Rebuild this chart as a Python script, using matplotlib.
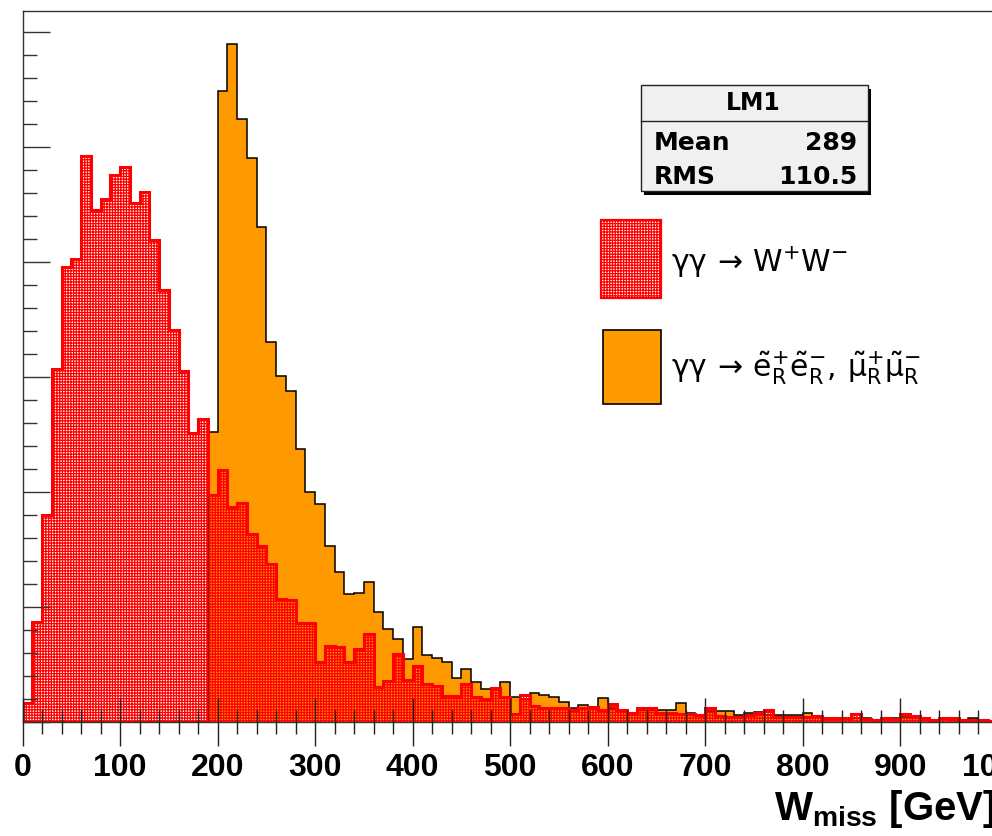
import numpy as np
import matplotlib
matplotlib.use('Agg')
import matplotlib.pyplot as plt
from matplotlib.patches import Rectangle
from matplotlib.lines import Line2D
from matplotlib.ticker import MultipleLocator

# ---------------- data ----------------
bin_edges = np.arange(0, 1001, 10)

# gamma gamma -> W+W-  (red, hatched)
ww_counts = [
    16.5, 87, 180, 307, 395, 402, 492, 445, 454.5, 475,
    482.6, 451, 461, 419, 375, 340.6, 305, 251, 263, 197,
    219, 186.4, 190.4, 163, 153, 137, 106.4, 105.6, 86, 86,
    51.6, 66, 65, 52, 63, 76, 30.4, 35.4, 59, 36.5,
    48.7, 32.8, 31.3, 22.3, 22.3, 32.6, 21.7, 19.6, 29, 21.7,
    6.8, 23.2, 14, 11.6, 11.6, 11.6, 10.2, 11.6, 13, 10,
    15.4, 10, 8, 11.6, 11.6, 7.3, 7.3, 6.5, 7, 5.8,
    11.6, 5, 4.3, 4.3, 5.8, 7.3, 10.2, 4.3, 4.3, 4.3,
    4.3, 5.2, 3.5, 3, 3, 6.4, 2, 1.4, 3, 2,
    6.4, 5.2, 3, 1.4, 3, 3, 1.4, 1.4, 1.4, 1,
]

# gamma gamma -> slepton pairs, LM1 (orange)
lm1_counts = [
    0, 0, 0, 0, 0, 0, 0, 0, 0, 0,
    0, 0, 0, 0, 0, 0, 0, 0, 0, 252,
    548.7, 589, 524, 490, 430, 330, 301, 287.6, 237, 200,
    189.3, 153, 130.4, 111, 112, 121.7, 95.7, 80.6, 72, 54.3,
    82.6, 58, 55.7, 52, 38, 45.6, 34.2, 28.3, 28, 34.2,
    21.7, 20, 24.6, 23.2, 21.7, 16.8, 11.6, 14.5, 13, 20.3,
    12, 10.2, 7.3, 10.2, 10, 10.2, 10.5, 16, 7.8, 5.8,
    9, 9.3, 9.3, 5.8, 7.3, 8.5, 6, 5.5, 5.8, 5.8,
    7.8, 4, 3, 3, 2, 3, 3.5, 1, 2, 3,
    4, 3, 1.5, 1, 2, 1.5, 1, 3.5, 1, 0.5,
]

x_ticks = [0, 100, 200, 300, 400, 500, 600, 700, 800, 900, 1000]
x_tick_labels = [str(v) for v in x_ticks]
x_label = r'W$_{\mathbf{miss}}$ [GeV]'

stats_title = 'LM1'
stats_rows = [('Mean', '289'), ('RMS', '110.5')]

legend_labels = [
    r'$\mathrm{\gamma\gamma}\,\rightarrow\,\mathrm{W}^{+}\mathrm{W}^{-}$',
    r'$\mathrm{\gamma\gamma}\,\rightarrow\,\tilde{\mathrm{e}}^{+}_{\mathrm{R}}\tilde{\mathrm{e}}^{-}_{\mathrm{R}},\,'
    r'\tilde{\mathrm{\mu}}^{+}_{\mathrm{R}}\tilde{\mathrm{\mu}}^{-}_{\mathrm{R}}$',
]

# ---------------- style ----------------
plt.rcParams['font.family'] = ['Liberation Sans', 'DejaVu Sans']
plt.rcParams['mathtext.fontset'] = 'custom'
plt.rcParams['mathtext.rm'] = 'Liberation Sans'
plt.rcParams['mathtext.it'] = 'Liberation Sans:italic'
plt.rcParams['mathtext.bf'] = 'Liberation Sans:bold'
plt.rcParams['hatch.linewidth'] = 0.9

ORANGE = '#ff9900'
RED = '#ff0000'
HATCH = '++++++'

W, H = 992, 836
fig = plt.figure(figsize=(W / 100, H / 100), dpi=100)


def fx(px):
    return px / W


def fy(py):
    return 1 - py / H


ax_left, ax_top, ax_bottom, ax_w = 22.7, 11.0, 721.7, 975.0
ax = fig.add_axes([fx(ax_left), fy(ax_bottom), ax_w / W, (ax_bottom - ax_top) / H])

# orange histogram
ax.stairs(lm1_counts, bin_edges, fill=True, facecolor=ORANGE, edgecolor='none',
          linewidth=0, zorder=1.0)
ax.stairs(lm1_counts, bin_edges, baseline=0, color='black', linewidth=1.1, zorder=1.1)
# red hatched histogram
ax.stairs(ww_counts, bin_edges, fill=True, facecolor='none', edgecolor=RED,
          hatch=HATCH, linewidth=0, zorder=1.2)
ax.stairs(ww_counts, bin_edges, baseline=0, color=RED, linewidth=2.2, zorder=1.3)

ax.set_xlim(0, 1000)
ax.set_ylim(0, 618)
ax.set_axisbelow(False)

ax.set_xticks(x_ticks, x_tick_labels, fontweight='bold', fontsize=23)
ax.xaxis.set_minor_locator(MultipleLocator(20))
ax.yaxis.set_major_locator(MultipleLocator(100))
ax.yaxis.set_minor_locator(MultipleLocator(20))
ax.tick_params(axis='x', which='major', direction='inout', length=34.6, width=1.0,
               pad=5, color='#222222')
ax.tick_params(axis='x', which='minor', direction='inout', length=17.3, width=1.0,
               color='#222222')
ax.tick_params(axis='y', which='major', direction='in', length=19.4, width=1.0,
               labelleft=False, color='#333333')
ax.tick_params(axis='y', which='minor', direction='in', length=10.0, width=1.0,
               color='#333333')
ax.tick_params(top=False, right=False)
for sp in ax.spines.values():
    sp.set_linewidth(1.0)
    sp.set_color('#333333')

# x-axis title
fig.text(fx(996), fy(820), x_label, fontsize=29, fontweight='bold',
         ha='right', va='baseline')

# ---------------- stats box ----------------
bx0, by0, bx1, by1 = 641, 85, 868, 191
fig.add_artist(Rectangle((fx(bx0 + 3), fy(by1 + 4)), (bx1 - bx0) / W, (by1 - by0) / H,
                         transform=fig.transFigure, facecolor='black', edgecolor='none',
                         zorder=5))
fig.add_artist(Rectangle((fx(bx0), fy(by1)), (bx1 - bx0) / W, (by1 - by0) / H,
                         transform=fig.transFigure, facecolor='#f0f0f0', edgecolor='#222222',
                         linewidth=1.0, zorder=6))
fig.add_artist(Line2D([fx(bx0), fx(bx1)], [fy(121), fy(121)], transform=fig.transFigure,
                      color='#222222', linewidth=1.0, zorder=7))
fig.text(fx(753), fy(103), stats_title, fontsize=17, fontweight='bold',
         family='DejaVu Sans', ha='center', va='center', zorder=8)
for i, (name, val) in enumerate(stats_rows):
    yy = 143.5 + 34 * i
    fig.text(fx(654), fy(yy), name, fontsize=18, fontweight='bold',
             family='DejaVu Sans', ha='left', va='center', zorder=8)
    fig.text(fx(857), fy(yy), val, fontsize=18, fontweight='bold',
             family='DejaVu Sans', ha='right', va='center', zorder=8)

# ---------------- legend ----------------
fig.add_artist(Rectangle((fx(601), fy(298)), 60 / W, 78 / H, transform=fig.transFigure,
                         facecolor='white', edgecolor=RED, hatch=HATCH, linewidth=1.6,
                         zorder=5))
fig.add_artist(Rectangle((fx(603), fy(404)), 58 / W, 74 / H, transform=fig.transFigure,
                         facecolor=ORANGE, edgecolor='black', linewidth=1.2, zorder=5))
fig.text(fx(671), fy(262), legend_labels[0], fontsize=21.5, ha='left', va='center',
         math_fontfamily='dejavusans', zorder=8)
fig.text(fx(671), fy(368), legend_labels[1], fontsize=21.5, ha='left', va='center',
         math_fontfamily='dejavusans', zorder=8)

fig.savefig('out.png', dpi=100)
